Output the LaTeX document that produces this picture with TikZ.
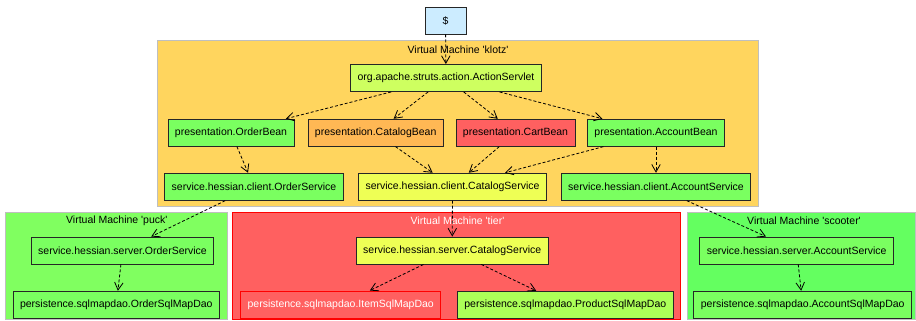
\documentclass[tikz,border=0pt]{standalone}
\usepackage{fontspec}
\setmainfont{Liberation Sans}
\usetikzlibrary{arrows.meta}
\definecolor{dollarblue}{RGB}{204,236,255}
\definecolor{klotzfill}{RGB}{255,213,94}
\definecolor{puckfill}{RGB}{128,255,96}
\definecolor{tierfill}{RGB}{255,96,96}
\definecolor{scooterfill}{RGB}{100,255,96}
\definecolor{limefill}{RGB}{206,255,96}
\definecolor{greenfill}{RGB}{122,255,96}
\definecolor{orangefill}{RGB}{255,184,84}
\definecolor{redfill}{RGB}{255,96,96}
\definecolor{yellowfill}{RGB}{238,255,85}
\definecolor{productfill}{RGB}{172,255,88}

\begin{document}
\begin{tikzpicture}[x=1pt, y=-1pt,
    every node/.style={font=\fontsize{10.5}{12}\selectfont},
    vm/.style={draw=black!25, line width=0.9pt, inner sep=0pt},
    box/.style={draw=black!85, line width=0.9pt, inner xsep=7pt, inner ysep=0pt, minimum height=27pt},
    edge/.style={dash pattern=on 3pt off 2pt, line width=0.8pt, -{Straight Barb[length=7.5pt, width=8.5pt]}}]
    \useasboundingbox (0, 0) rectangle (916, 321);

    % virtual machines
    \node [vm, fill=klotzfill, minimum width=601pt, minimum height=166pt] (klotz) at (457.5, 123) {};
    \node [vm, fill=puckfill, minimum width=222.7pt, minimum height=107.5pt] (puck) at (116.4, 266) {};
    \node [vm, draw=red, fill=tierfill, minimum width=447.7pt, minimum height=107.5pt] (tier) at (456.2, 266) {};
    \node [vm, fill=scooterfill, minimum width=228pt, minimum height=107.5pt] (scooter) at (801, 266) {};
    \node (klotzlabel) at (458, 49.5) {Virtual Machine \textquotesingle klotz\textquotesingle};
    \node (pucklabel) at (116.8, 221) {Virtual Machine \textquotesingle puck\textquotesingle};
    \node [text=white] (tierlabel) at (457.5, 221) {Virtual Machine \textquotesingle tier\textquotesingle};
    \node (scooterlabel) at (804, 221) {Virtual Machine \textquotesingle scooter\textquotesingle};

    \node [box, fill=dollarblue, minimum width=41pt] (dollar) at (445.5, 20.5) {\$};

    \node [box, fill=limefill] (servlet) at (446, 78) {org.apache.struts.action.ActionServlet};
    \node [box, fill=greenfill] (orderbean) at (231, 132.7) {presentation.OrderBean};
    \node [box, fill=orangefill] (catalogbean) at (375.7, 132.7) {presentation.CatalogBean};
    \node [box, fill=redfill] (cartbean) at (515.5, 132.7) {presentation.CartBean};
    \node [box, fill=greenfill] (accountbean) at (656, 132.7) {presentation.AccountBean};
    \node [box, fill=greenfill] (ordclient) at (254, 186.7) {service.hessian.client.OrderService};
    \node [box, fill=yellowfill] (catclient) at (452.5, 186.7) {service.hessian.client.CatalogService};
    \node [box, fill=greenfill] (accclient) at (656, 186.7) {service.hessian.client.AccountService};

    \node [box, fill=greenfill] (ordserver) at (122.5, 250.5) {service.hessian.server.OrderService};
    \node [box, fill=greenfill] (orderdao) at (116.3, 304.7) {persistence.sqlmapdao.OrderSqlMapDao};
    \node [box, fill=yellowfill] (catserver) at (452.2, 250.5) {service.hessian.server.CatalogService};
    \node [box, draw=red, line width=1.3pt, fill=redfill, text=white] (itemdao) at (340.7, 304.7) {persistence.sqlmapdao.ItemSqlMapDao};
    \node [box, fill=productfill] (productdao) at (565.3, 304.7) {persistence.sqlmapdao.ProductSqlMapDao};
    \node [box, fill=greenfill] (accserver) at (796.7, 250.5) {service.hessian.server.AccountService};
    \node [box, fill=greenfill] (accountdao) at (802.7, 304.7) {persistence.sqlmapdao.AccountSqlMapDao};

    \draw [edge] (dollar) -- (servlet);
    \draw [edge] (servlet) -- (orderbean);
    \draw [edge] (servlet) -- (catalogbean);
    \draw [edge] (servlet) -- (cartbean);
    \draw [edge] (servlet) -- (accountbean);
    \draw [edge] (orderbean) -- (ordclient);
    \draw [edge] (catalogbean) -- (catclient);
    \draw [edge] (cartbean) -- (catclient);
    \draw [edge] (accountbean) -- (catclient);
    \draw [edge] (accountbean) -- (accclient);
    \draw [edge] (ordclient) -- (ordserver);
    \draw [edge] (catclient) -- (catserver);
    \draw [edge] (accclient) -- (accserver);
    \draw [edge] (ordserver) -- (orderdao);
    \draw [edge] (catserver) -- (itemdao);
    \draw [edge] (catserver) -- (productdao);
    \draw [edge] (accserver) -- (accountdao);
\end{tikzpicture}
\end{document}
